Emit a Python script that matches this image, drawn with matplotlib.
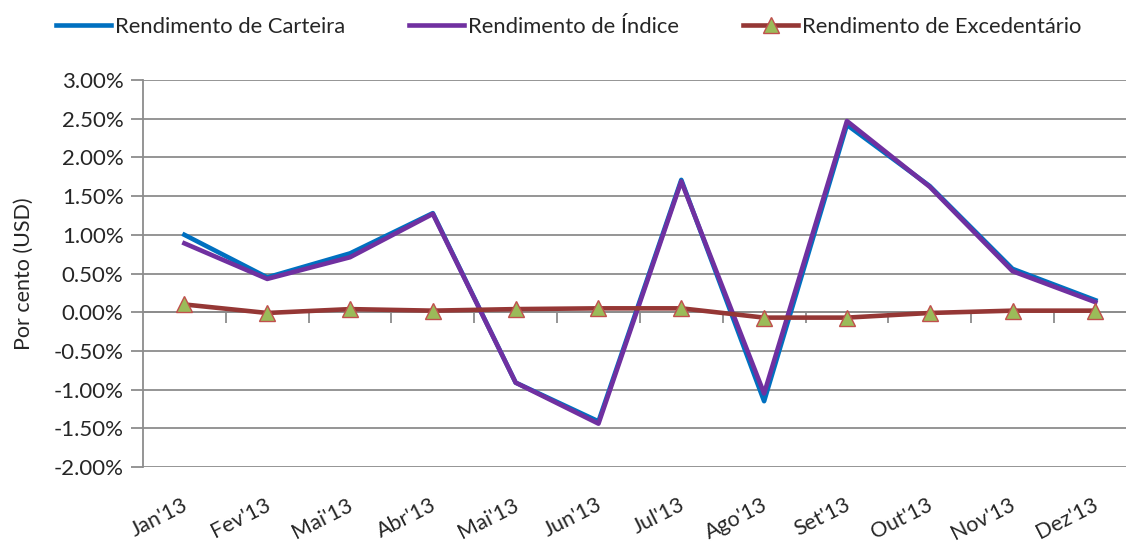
import matplotlib
matplotlib.use("Agg")
import matplotlib.pyplot as plt
from matplotlib.ticker import FuncFormatter, MultipleLocator
import matplotlib.transforms as mtransforms

months = ["Jan'13", "Fev'13", "Mai'13", "Abr'13", "Mai'13", "Jun'13",
          "Jul'13", "Ago'13", "Set'13", "Out'13", "Nov'13", "Dez'13"]
carteira = [1.00, 0.45, 0.76, 1.28, -0.91, -1.41, 1.71, -1.15, 2.42, 1.63, 0.56, 0.155]
indice = [0.89, 0.43, 0.71, 1.27, -0.91, -1.44, 1.69, -1.05, 2.47, 1.62, 0.53, 0.13]
excedentario = [0.10, -0.01, 0.04, 0.02, 0.04, 0.05, 0.05, -0.07, -0.07, -0.01, 0.02, 0.02]
series_names = ["Rendimento de Carteira", "Rendimento de Índice", "Rendimento de Excedentário"]

plt.rcParams['font.family'] = ['Lato', 'DejaVu Sans']

W, H = 1126, 542
fig = plt.figure(figsize=(W / 100, H / 100), dpi=100)
left, right, top, bottom = 143, 1126, 80, 467
ax = fig.add_axes([left / W, 1 - bottom / H, (right - left) / W, (bottom - top) / H])

x = list(range(len(months)))
grid_c = '#8c8c8c'
text_c = '#262626'

ax.plot(x, carteira, color='#0070C0', lw=3.3, solid_joinstyle='round', zorder=3, label=series_names[0])
ax.plot(x, indice, color='#7030A0', lw=3.3, solid_joinstyle='round', zorder=4, label=series_names[1])
ax.plot(x, excedentario, color='#953735', lw=3.3, zorder=5, marker='^', markersize=11,
        markerfacecolor='#9BBB59', markeredgecolor='#C0504D', markeredgewidth=1.0,
        label=series_names[2])

ax.set_ylim(-2.0, 3.0)
ax.set_xlim(-0.5, 11.37)
ax.yaxis.set_major_locator(MultipleLocator(0.5))
ax.yaxis.set_major_formatter(FuncFormatter(lambda v, p: f"{v:.2f}%"))
ax.grid(axis='y', color=grid_c, lw=1.3, zorder=0)
ax.set_axisbelow(True)

for s in ['top', 'right']:
    ax.spines[s].set_visible(False)
ax.spines['left'].set_color(grid_c)
ax.spines['left'].set_linewidth(1.3)
ax.spines['bottom'].set_position(('data', 0))
ax.spines['bottom'].set_color(grid_c)
ax.spines['bottom'].set_linewidth(1.3)

ax.set_xticks([i + 0.5 for i in x[:-1]])
ax.set_xticklabels([])
ax.tick_params(axis='x', direction='out', length=8, width=1.3, color=grid_c)
ax.tick_params(axis='y', direction='out', length=9, width=1.3, color=grid_c,
               labelsize=16, labelcolor=text_c, pad=5)

trans = mtransforms.blended_transform_factory(ax.transData, ax.transAxes)
for i, m in enumerate(months):
    ax.text(i + 0.02, -0.095, m, transform=trans, rotation=27, rotation_mode='anchor',
            ha='right', va='center', fontsize=15.5, color=text_c)

ax.set_ylabel("Por cento (USD)", fontsize=15.5, color=text_c)
ax.yaxis.set_label_coords(-(left - 34) / (right - left), 0.5)

fig.legend(loc='center', bbox_to_anchor=(569 / W, 1 - 27 / H), ncol=3, frameon=False,
           fontsize=15.8, handlelength=2.5, handletextpad=0.2, columnspacing=2.9,
           labelcolor=text_c)

fig.savefig("out.png", dpi=100)
